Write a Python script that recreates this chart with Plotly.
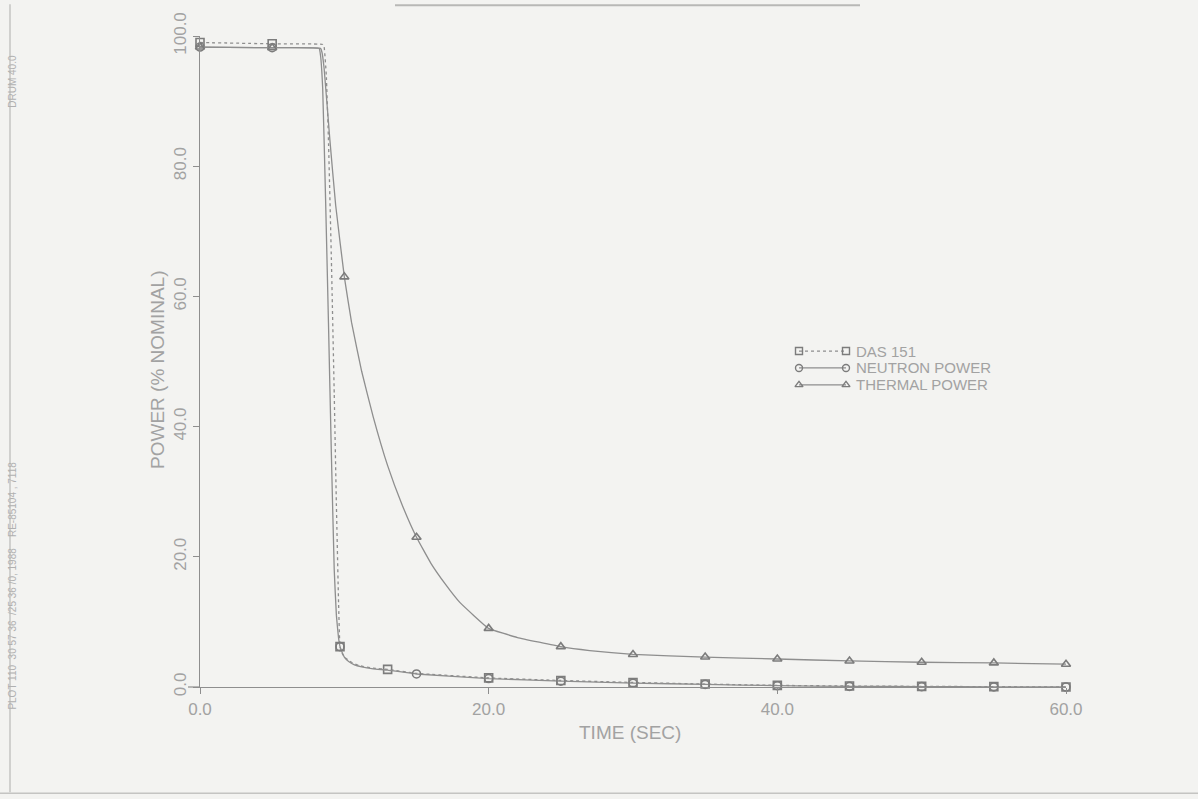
import plotly.graph_objects as go

# ---- data: power (% nominal) versus time (sec) ----
t_das = [0, 5, 8.5, 8.6, 8.75, 8.9, 9.1, 9.3, 9.45, 9.6, 9.7, 9.85, 10.0, 10.5,
         11, 12, 13, 15, 20, 25, 30, 35, 40, 45, 50, 55, 60]
p_das = [99.0, 98.8, 98.7, 98.3, 94.0, 84.0, 66.0, 45.0, 28.0, 13.0, 6.2, 5.2, 4.6, 3.8,
         3.3, 2.9, 2.7, 2.1, 1.4, 1.0, 0.7, 0.45, 0.25, 0.15, 0.1, 0.05, 0.0]

t_neutron = [0, 5, 8.25, 8.35, 8.5, 8.7, 8.9, 9.1, 9.3, 9.45, 9.6, 9.7, 9.85, 10.0,
             10.3, 10.7, 11.2, 12, 13, 15, 20, 25, 30, 35, 40, 45, 50, 55, 60]
p_neutron = [98.3, 98.2, 98.1, 97.0, 92.0, 75.0, 56.0, 36.0, 18.0, 11.0, 7.5, 6.2, 5.3, 4.6,
             3.9, 3.4, 3.1, 2.8, 2.6, 2.0, 1.3, 0.9, 0.6, 0.4, 0.2, 0.1, 0.05, 0.02, 0.0]

t_thermal = [0, 5, 8.35, 8.45, 8.6, 9.0, 9.4, 10, 10.5, 11.2, 12, 13, 14, 15, 16, 17, 18,
             20, 22, 25, 27, 30, 35, 40, 45, 50, 55, 60]
p_thermal = [98.3, 98.2, 98.1, 97.5, 95.0, 84.0, 74.0, 63.0, 56.0, 48.5, 41.5, 34.0, 28.0, 23.0,
             19.0, 15.8, 13.0, 9.0, 7.6, 6.2, 5.6, 5.0, 4.6, 4.3, 4.0, 3.8, 3.7, 3.5]

# times at which the plotter put a symbol on each curve
mark_das = [0, 5, 9.7, 13, 20, 25, 30, 35, 40, 45, 50, 55, 60]
mark_neutron = [0, 5, 9.7, 15, 20, 25, 30, 35, 40, 45, 50, 55, 60]
mark_thermal = [0, 5, 10, 15, 20, 25, 30, 35, 40, 45, 50, 55, 60]

x_ticks = [0, 20, 40, 60]
y_ticks = [0, 20, 40, 60, 80, 100]
x_labels = ["0.0", "20.0", "40.0", "60.0"]
y_labels = ["0.0", "20.0", "40.0", "60.0", "80.0", "100.0"]

series = [
    ("DAS 151", t_das, p_das, mark_das, "dot", "square-open"),
    ("NEUTRON POWER", t_neutron, p_neutron, mark_neutron, "solid", "circle-open"),
    ("THERMAL POWER", t_thermal, p_thermal, mark_thermal, "solid", "triangle-up-open"),
]

INK = "#8e8e8e"
MARK = "#7c7c7c"
TEXT = "#a2a2a2"
BG = "#f3f3f1"
FONT = "Liberation Sans"

W, H = 1198, 799
ML, MR, MT, MB = 200, 132, 32, 112
XR = (0, 60)
YR = (0, 100)


def px_to_data(px, py):
    x = XR[0] + (px - ML) / (W - ML - MR) * (XR[1] - XR[0])
    y = YR[0] + (H - MB - py) / (H - MT - MB) * (YR[1] - YR[0])
    return x, y


def paper(px, py):
    return (px - ML) / (W - ML - MR), (H - MB - py) / (H - MT - MB)


fig = go.Figure()

for name, t, p, marks, dash, sym in series:
    fig.add_trace(go.Scatter(
        x=t, y=p, mode="lines", name=name, showlegend=False,
        line=dict(color=INK, width=1.3, dash=dash, shape="spline", smoothing=0.3),
        cliponaxis=False, hoverinfo="skip",
    ))
    mx = [ti for ti in t if ti in marks]
    my = [pi for ti, pi in zip(t, p) if ti in marks]
    fig.add_trace(go.Scatter(
        x=mx, y=my, mode="markers", showlegend=False, cliponaxis=False,
        marker=dict(symbol=sym, size=8, color=MARK, line=dict(color=MARK, width=1.6)),
    ))

# hand-drawn key: symbol, line, symbol, then the label
rows_py = [349, 366, 383]
for (name, t, p, marks, dash, sym), py in zip(series, rows_py):
    x0, y0 = px_to_data(799, py)
    x1, _ = px_to_data(846, py)
    fig.add_trace(go.Scatter(
        x=[x0, x1], y=[y0, y0], mode="lines+markers", showlegend=False,
        cliponaxis=False, hoverinfo="skip",
        line=dict(color=INK, width=1.2, dash=dash),
        marker=dict(symbol=sym, size=7, color=MARK, line=dict(color=MARK, width=1.4)),
    ))
    ax, ay = paper(854, py)
    fig.add_annotation(
        xref="paper", yref="paper", x=ax, y=ay,
        text=name, showarrow=False, xanchor="left", yanchor="middle",
        font=dict(family=FONT, size=15, color=TEXT),
    )

# axis titles
ax, ay = paper(630, 733)
fig.add_annotation(
    xref="paper", yref="paper", x=ax, y=ay,
    text="TIME (SEC)", showarrow=False, xanchor="center", yanchor="middle",
    font=dict(family=FONT, size=19, color=TEXT),
)
ax, ay = paper(158, 368)
fig.add_annotation(
    xref="paper", yref="paper", x=ax, y=ay,
    text="POWER (% NOMINAL)", showarrow=False, textangle=-90,
    xanchor="center", yanchor="middle",
    font=dict(family=FONT, size=19, color=TEXT),
)

# margin annotation of the plotting run, printed sideways
ax, ay = paper(13, 585)
fig.add_annotation(
    xref="paper", yref="paper", x=ax, y=ay,
    text="PLOT 110  30 57 36  /25 36 /0, 1988    RE-85104 , 7118", showarrow=False,
    textangle=-90, xanchor="center", yanchor="middle",
    font=dict(family=FONT, size=10, color="#b0b0b0"),
)
ax, ay = paper(13, 78)
fig.add_annotation(
    xref="paper", yref="paper", x=ax, y=ay,
    text="DRUM 40.0", showarrow=False, textangle=-90, xanchor="center", yanchor="middle",
    font=dict(family=FONT, size=10, color="#b0b0b0"),
)

# sheet edges
edge = dict(color="#c4c4c2", width=1.5)
x0, y0 = paper(10, 0)
x1, y1 = paper(10, 793)
fig.add_shape(type="line", xref="paper", yref="paper", x0=x0, x1=x1, y0=y0, y1=y1, line=edge)
x0, y0 = paper(0, 794)
x1, y1 = paper(W, 794)
fig.add_shape(type="line", xref="paper", yref="paper", x0=x0, x1=x1, y0=y0, y1=y1, line=edge)
x0, y0 = paper(395, 1)
x1, y1 = paper(860, 1)
fig.add_shape(type="line", xref="paper", yref="paper", x0=x0, x1=x1, y0=y0, y1=y1,
              line=dict(color="#b8b8b6", width=2))
# x axis runs a little past the origin
x0, _ = paper(188, 0)
fig.add_shape(type="line", xref="paper", yref="paper", x0=x0, x1=0, y0=0, y1=0,
              line=dict(color=INK, width=1.2))

axis_common = dict(
    showgrid=False, zeroline=False, showline=True, linecolor=INK, linewidth=1.2,
    ticks="outside", ticklen=6, tickcolor=INK, tickwidth=1.2,
    tickfont=dict(family=FONT, size=17, color=TEXT),
)

fig.update_layout(
    width=W, height=H,
    margin=dict(l=ML, r=MR, t=MT, b=MB),
    paper_bgcolor=BG, plot_bgcolor=BG,
    showlegend=False,
    xaxis=dict(range=list(XR), tickvals=x_ticks, ticktext=x_labels, **axis_common),
    yaxis=dict(range=list(YR), tickvals=y_ticks, ticktext=y_labels, tickangle=-90,
               **axis_common),
)

fig.write_html("out.html")
